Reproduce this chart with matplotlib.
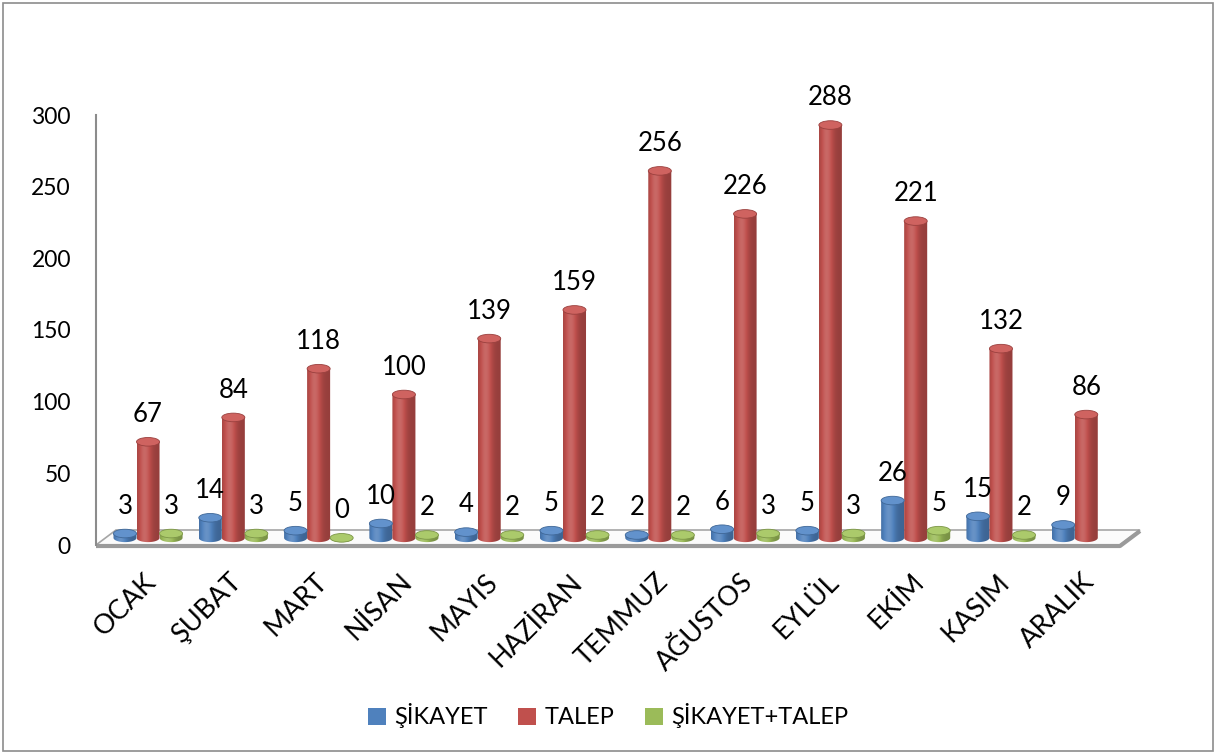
import numpy as np
import matplotlib.pyplot as plt
from matplotlib.patches import Ellipse, Polygon, Rectangle
from matplotlib.colors import to_rgb


# ============================================================
# DATA
# ============================================================

months = ["OCAK", "ŞUBAT", "MART", "NİSAN", "MAYIS", "HAZİRAN",
          "TEMMUZ", "AĞUSTOS", "EYLÜL", "EKİM", "KASIM", "ARALIK"]

sikayet = [3, 14, 5, 10, 4, 5, 2, 6, 5, 26, 15, 9]
talep = [67, 84, 118, 100, 139, 159, 256, 226, 288, 221, 132, 86]
# no value given for ARALIK
sikayet_talep = [3, 3, 0, 2, 2, 2, 2, 3, 3, 5, 2, None]

series_names = ["ŞİKAYET", "TALEP", "ŞİKAYET+TALEP"]
series_values = [sikayet, talep, sikayet_talep]
colors = ["#4F81BD", "#C0504D", "#9BBB59"]

y_ticks = [0, 50, 100, 150, 200, 250, 300]


# ============================================================
# FIGURE SETUP
# ============================================================

plt.rcParams["font.family"] = ["Lato", "DejaVu Sans"]

W, H = 1216, 753
fig = plt.figure(figsize=(W / 100, H / 100), dpi=100)

# plot area in pixels: x 96..1140, y 545 (0) .. 115 (300)
ax_left, ax_right = 96, 1140
ax_bottom, ax_top = 545, 115
ax = fig.add_axes([ax_left / W, (H - ax_bottom) / H,
                   (ax_right - ax_left) / W, (ax_bottom - ax_top) / H])

x0, x1 = -0.61, 11.63
ax.set_xlim(x0, x1)
ax.set_ylim(0, 300)


def px2data(px, py):
    x = x0 + (px - ax_left) / (ax_right - ax_left) * (x1 - x0)
    y = (ax_bottom - py) / (ax_bottom - ax_top) * 300
    return x, y


for side in ["top", "right", "bottom"]:
    ax.spines[side].set_visible(False)
ax.spines["left"].set_color("#8c8c8c")
ax.spines["left"].set_linewidth(1.5)

ax.set_yticks(y_ticks)
ax.tick_params(axis="y", length=0, pad=18, labelsize=16.5)
ax.set_xticks([])


# ============================================================
# FLOOR
# ============================================================

floor_px = [(96, 545), (116, 530), (1140, 530), (1120, 545)]
floor = Polygon([px2data(*p) for p in floor_px], closed=True,
                facecolor="#fbfbfb", edgecolor="#a6a6a6", lw=1.2,
                zorder=1, clip_on=False)
ax.add_patch(floor)

fx, fy = zip(*[px2data(96, 546), px2data(1120, 546), px2data(1140, 531)])
ax.plot(fx, fy, color="#9a9a9a", lw=3, zorder=1.5, clip_on=False,
        solid_capstyle="butt")


# ============================================================
# CYLINDERS
# ============================================================

def shade(color, t):
    base = np.array(to_rgb(color))
    f = 0.78 + 0.36 * np.exp(-((t - 0.32) / 0.28) ** 2)
    out = []
    for v in f:
        if v > 1:
            out.append(base + (1 - base) * (v - 1))
        else:
            out.append(base * v)
    return np.clip(np.array(out), 0, 1)


t = np.linspace(0, 1, 64)
bar_w = 0.27
offsets = [-0.27, 0.0, 0.27]
base_y = 5.0
cap_h = 6.0
label_gap = 19

for s, values in enumerate(series_values):
    col = colors[s]
    body = shade(col, t)[None, :, :]
    top = shade(col, t) * 0.6 + 0.4 * np.clip(np.array(to_rgb(col)) * 1.12, 0, 1)
    for i, v in enumerate(values):
        if v is None:
            continue
        xc = i + offsets[s]
        xl, xr = xc - bar_w / 2, xc + bar_w / 2
        ytop = base_y + v

        # body outline: left side, bottom half-ellipse, right side
        ang = np.linspace(np.pi, 2 * np.pi, 40)
        arc_x = xc + bar_w / 2 * np.cos(ang)
        arc_y = base_y + cap_h / 2 * np.sin(ang)
        verts = [(xl, ytop)] + list(zip(arc_x, arc_y)) + [(xr, ytop)]
        clip = Polygon(verts, closed=True, facecolor="none",
                       edgecolor="none", zorder=2, clip_on=False)
        ax.add_patch(clip)
        im = ax.imshow(body, extent=(xl, xr, base_y - cap_h, ytop + 1),
                       aspect="auto", zorder=2, interpolation="bilinear")
        im.set_clip_path(clip)

        # top cap
        cap = Ellipse((xc, ytop), bar_w, cap_h, facecolor=top[20],
                      edgecolor=body[0, 50], lw=0.6, zorder=3,
                      clip_on=False)
        ax.add_patch(cap)

        ax.text(xc, ytop + label_gap, str(v), ha="center", va="center",
                fontsize=18.5, color="black", zorder=5, clip_on=False)

ax.set_xlim(x0, x1)
ax.set_ylim(0, 300)


# ============================================================
# CATEGORY LABELS
# ============================================================

for i, m in enumerate(months):
    lx, ly = px2data(0, 578)
    ax.text(i + 0.05, ly, m, rotation=45, ha="right", va="center",
            rotation_mode="anchor", fontsize=19.5, clip_on=False)


# ============================================================
# LEGEND + BORDER
# ============================================================

handles = [Rectangle((0, 0), 1, 1, facecolor=c, edgecolor="none")
           for c in colors]
fig.legend(handles, series_names, loc="center",
           bbox_to_anchor=(608 / W, 1 - 716 / H), ncol=3, frameon=False,
           fontsize=17, handlelength=0.75, handleheight=0.75,
           handletextpad=0.35, columnspacing=1.3)

fig.patches.append(Rectangle((3 / W, 2 / H), 1 - 6 / W, 1 - 5 / H,
                             transform=fig.transFigure, fill=False,
                             edgecolor="#8c8c8c", lw=1.2))

fig.savefig("out.png", dpi=100)
